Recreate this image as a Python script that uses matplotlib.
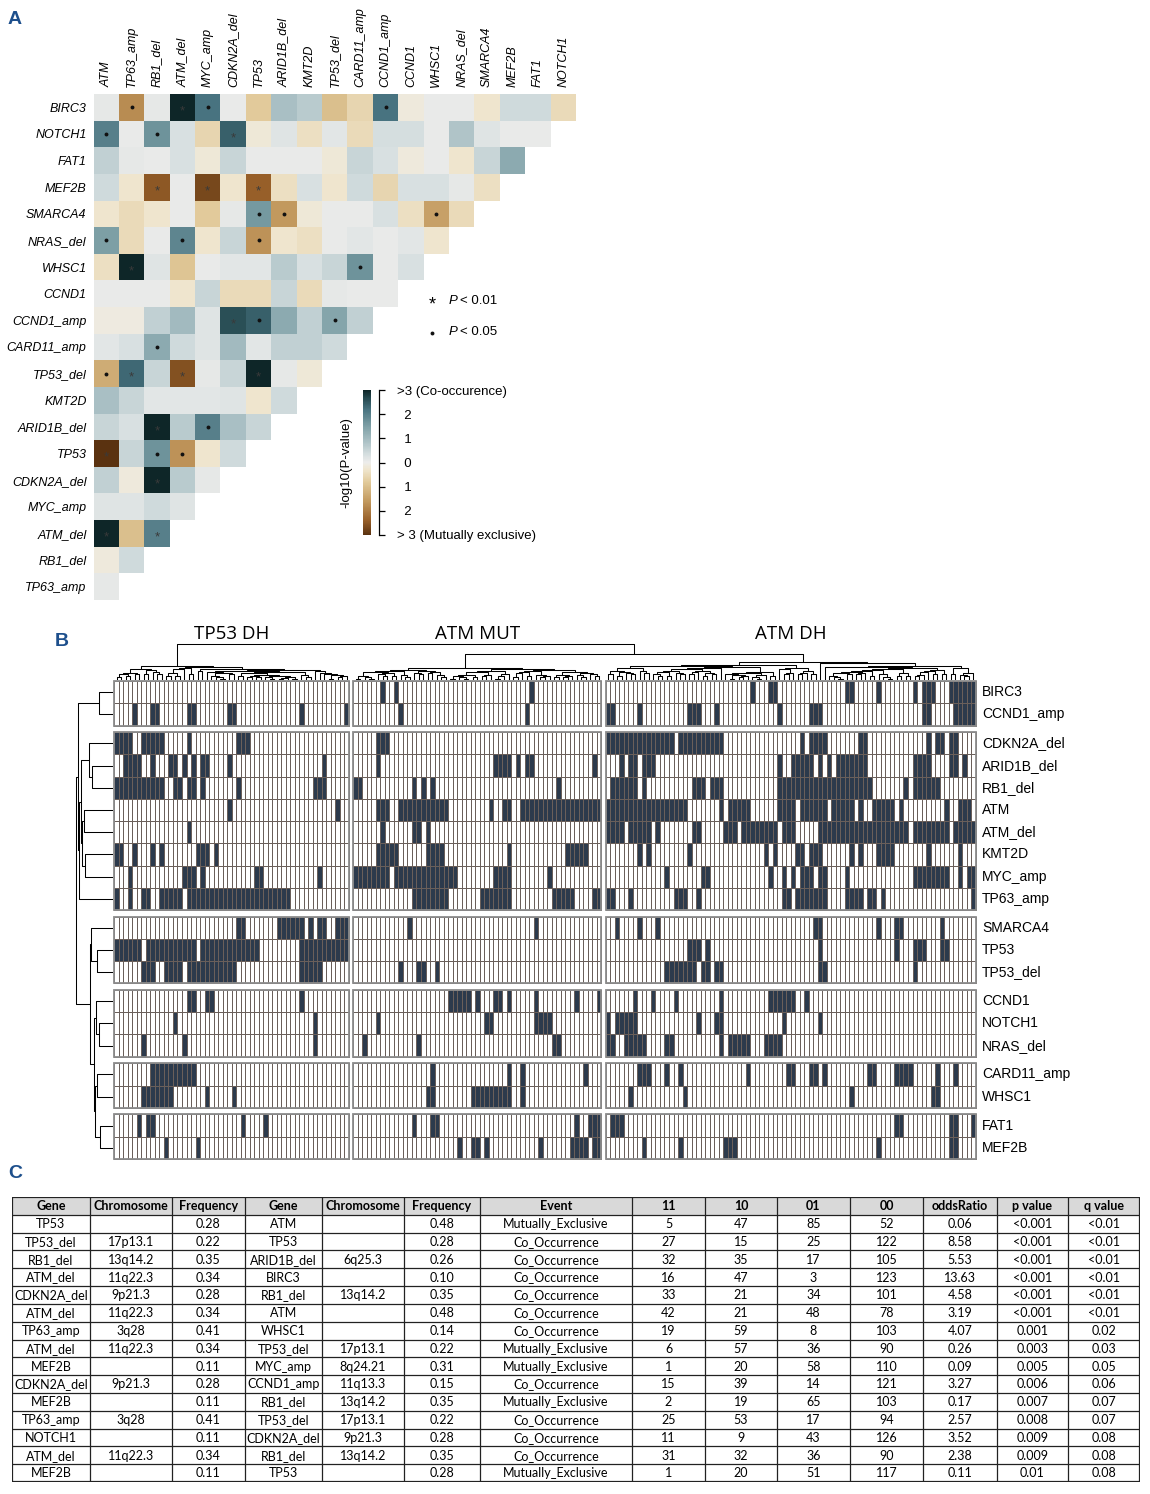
import numpy as np
import matplotlib
matplotlib.use("Agg")
import matplotlib.pyplot as plt
from matplotlib.colors import LinearSegmentedColormap, ListedColormap
from matplotlib.patches import Rectangle
import matplotlib.transforms as mtransforms

# ----------------------------------------------------------------- data A
a_cols = ["ATM", "TP63_amp", "RB1_del", "ATM_del", "MYC_amp", "CDKN2A_del", "TP53",
          "ARID1B_del", "KMT2D", "TP53_del", "CARD11_amp", "CCND1_amp", "CCND1", "WHSC1",
          "NRAS_del", "SMARCA4", "MEF2B", "FAT1", "NOTCH1"]
a_rows = ["BIRC3", "NOTCH1", "FAT1", "MEF2B", "SMARCA4", "NRAS_del", "WHSC1", "CCND1",
          "CCND1_amp", "CARD11_amp", "TP53_del", "KMT2D", "ARID1B_del", "TP53", "CDKN2A_del",
          "MYC_amp", "ATM_del", "RB1_del", "TP63_amp"]
# signed -log10(P): positive = co-occurrence, negative = mutually exclusive
a_vals = [
    [0.1, -1.8, 0.1, 3.0, 2.2, 0.05, -0.8, 0.9, 0.7, -1.0, -0.6, 2.2, -0.15, 0.05, 0.05, -0.3, 0.4, 0.4, -0.5],
    [2.0, 0.05, 1.7, 0.3, -0.6, 2.4, -0.2, 0.2, -0.4, 0.15, -0.5, 0.35, 0.35, 0.05, 0.8, 0.2, 0.05, 0.05],
    [0.6, 0.1, 0.05, 0.3, -0.2, 0.5, 0.05, 0.05, 0.05, -0.2, 0.5, 0.3, -0.15, 0.05, -0.3, 0.5, 1.3],
    [0.4, -0.3, -2.5, 0.05, -2.7, -0.3, -2.4, -0.4, 0.3, -0.3, 0.4, -0.6, 0.3, 0.3, 0.1, -0.4],
    [-0.3, -0.5, -0.3, 0.05, -0.8, 0.1, 1.6, -1.6, -0.2, 0.05, 0.05, 0.3, -0.4, -1.5, -0.5],
    [1.5, -0.5, 0.05, 1.9, -0.3, 0.5, -1.7, -0.3, -0.4, 0.05, 0.15, 0.05, 0.15, -0.3],
    [-0.4, 3.0, 0.2, -0.9, 0.05, 0.15, 0.15, 0.7, 0.3, 0.5, 1.7, 0.05, 0.3],
    [0.05, 0.05, 0.05, -0.3, 0.5, -0.5, -0.5, 0.5, -0.5, 0.1, 0.05, 0.05],
    [-0.1, -0.1, 0.6, 1.0, 0.2, 2.6, 2.4, 1.3, 0.6, 1.4, 0.6],
    [0.15, 0.3, 1.3, 0.4, 0.2, 1.0, 0.15, 0.6, 0.6, 0.4],
    [-1.3, 2.3, 0.5, -2.6, 0.1, 0.5, 3.0, 0.1, -0.2],
    [0.9, 0.5, 0.15, 0.15, 0.15, 0.2, -0.3, 0.4],
    [0.5, 0.3, 3.0, 0.7, 2.0, 0.9, 0.5],
    [-3.0, 0.5, 1.7, -1.7, -0.3, 0.4],
    [0.6, -0.15, 3.0, 0.7, 0.1],
    [0.2, 0.2, 0.4, 0.2],
    [3.0, -1.0, 2.0],
    [-0.15, 0.4],
    [0.1],
]
# significance marks (row, column, mark)
a_sig = [
    ("BIRC3", "TP63_amp", "dot"), ("BIRC3", "ATM_del", "star"), ("BIRC3", "MYC_amp", "dot"),
    ("BIRC3", "CCND1_amp", "dot"),
    ("NOTCH1", "ATM", "dot"), ("NOTCH1", "RB1_del", "dot"), ("NOTCH1", "CDKN2A_del", "star"),
    ("MEF2B", "RB1_del", "star"), ("MEF2B", "MYC_amp", "star"), ("MEF2B", "TP53", "star"),
    ("SMARCA4", "TP53", "dot"), ("SMARCA4", "ARID1B_del", "dot"), ("SMARCA4", "WHSC1", "dot"),
    ("NRAS_del", "ATM", "dot"), ("NRAS_del", "ATM_del", "dot"), ("NRAS_del", "TP53", "dot"),
    ("WHSC1", "TP63_amp", "star"), ("WHSC1", "CARD11_amp", "dot"),
    ("CCND1_amp", "CDKN2A_del", "star"), ("CCND1_amp", "TP53", "dot"), ("CCND1_amp", "TP53_del", "dot"),
    ("CARD11_amp", "RB1_del", "dot"),
    ("TP53_del", "ATM", "dot"), ("TP53_del", "TP63_amp", "star"), ("TP53_del", "ATM_del", "star"),
    ("TP53_del", "TP53", "star"),
    ("ARID1B_del", "RB1_del", "star"), ("ARID1B_del", "MYC_amp", "dot"),
    ("TP53", "ATM", "star"), ("TP53", "RB1_del", "dot"), ("TP53", "ATM_del", "dot"),
    ("CDKN2A_del", "RB1_del", "star"),
    ("ATM_del", "ATM", "star"), ("ATM_del", "RB1_del", "star"),
]
cbar_ticks = [3, 2, 1, 0, -1, -2, -3]
cbar_labels = [">3 (Co-occurence)", "  2", "  1", "  0", "  1", "  2", "> 3 (Mutually exclusive)"]

# ----------------------------------------------------------------- data B
b_genes = ["BIRC3", "CCND1_amp", "CDKN2A_del", "ARID1B_del", "RB1_del", "ATM", "ATM_del", "KMT2D",
           "MYC_amp", "TP63_amp", "SMARCA4", "TP53", "TP53_del", "CCND1", "NOTCH1", "NRAS_del",
           "CARD11_amp", "WHSC1", "FAT1", "MEF2B"]
b_row_groups = [2, 8, 3, 3, 2, 2]
b_col_groups = ["TP53 DH", "ATM MUT", "ATM DH"]
b_col_sizes = [52, 55, 82]
# altered patients (column indices inside each cluster)
b_tp53dh = {
    "BIRC3": "", "CCND1_amp": "4 8-9 16-17 25-26 41 51",
    "CDKN2A_del": "0-3 6-10 16 27-29", "ARID1B_del": "2-5 8 12-13 15 17 19-20 25 46",
    "RB1_del": "0-10 13-14 16-17 19 27 44-46", "ATM": "25 49", "ATM_del": "16",
    "KMT2D": "0-1 4 8 10 18-20 22", "MYC_amp": "3 15-17 19 31-32 45",
    "TP63_amp": "0 3 6-7 10-14 16-38", "SMARCA4": "27-28 36-41 43 45-46 49-51",
    "TP53": "0-5 7-17 19-31 41-51", "TP53_del": "6-8 11-14 16-26 41-45",
    "CCND1": "16-17 20-21 41", "NOTCH1": "13 44", "NRAS_del": "6 15 44",
    "CARD11_amp": "8-17", "WHSC1": "6-12 20 26", "FAT1": "5 7-8 28 33", "MEF2B": "11 18",
}
b_atmmut = {
    "BIRC3": "6 9 39", "CCND1_amp": "10 38", "CDKN2A_del": "5-7",
    "ARID1B_del": "5 31-34 36 38-39 53", "RB1_del": "0-1 13 15 17 45",
    "ATM": "5-7 10-20 30 33-34 37-54", "ATM_del": "6 13-14 16",
    "KMT2D": "5-9 16-19 34 47-51", "MYC_amp": "0-7 9-22 31-34 43",
    "TP63_amp": "13-20 28-34 44-48 53-54", "SMARCA4": "12 40", "TP53": "",
    "TP53_del": "10 14-15 18", "CCND1": "21-25 27 31-32 34 40 49 54",
    "NOTCH1": "5 29-30 40-43", "NRAS_del": "2 14 44-45", "CARD11_amp": "17 34 37 51",
    "WHSC1": "16-17 26-34 37", "FAT1": "13 17-18 49 52-54",
    "MEF2B": "23 26-27 29 41 48-51 53-54",
}
b_atmdh = {
    "BIRC3": "32 36-37 53-54 60 68 70-72 76-81",
    "CCND1_amp": "0-1 7 18-20 24 38 45-47 70-71 77-81",
    "CDKN2A_del": "0-14 16-25 43 45-48 56-57 71 73-74 76-77",
    "ARID1B_del": "3 5-6 8-10 38 41-45 47 49 51-57 68-71 76-77 79",
    "RB1_del": "1-6 8 19-21 23-25 38-58 66 68-73",
    "ATM": "0-17 25 27-31 38-41 43-48 50-54 56 59-63 65 75 78-80",
    "ATM_del": "0-3 5-9 11 19-20 26-28 30-37 39-41 47-66 68-75 77-81",
    "KMT2D": "7 9 18 35 37 42-43 45-47 54 56 60-63 71 78",
    "MYC_amp": "13 21-22 36 39 41 43-45 47-48 53 68-75 78 80-81",
    "TP63_amp": "0-1 5 15-17 20 39-40 42-48 53-56 58-59 61 81",
    "SMARCA4": "2 7 11 46-47 60 64-65 74",
    "TP53": "18-20 22 47 64 68-70 74-75",
    "TP53_del": "13-19 21-22 24-25 47-48 68",
    "CCND1": "6 10 15 25 36-41 44",
    "NOTCH1": "0 2-6 20 24-25 39 47",
    "NRAS_del": "0-1 4-8 13-14 25 27-31 35-38",
    "CARD11_amp": "7-9 13 16 31 40-41 45-46 48 58-59 64-67 73 77",
    "WHSC1": "5 17 54 72-73",
    "FAT1": "1-3 64-65 76-77 81",
    "MEF2B": "8 16 26-28 60 76-77",
}

# ----------------------------------------------------------------- data C
tbl_header = ["Gene", "Chromosome", "Frequency", "Gene", "Chromosome", "Frequency", "Event",
              "11", "10", "01", "00", "oddsRatio", "p value", "q value"]
c_gene1 = ["TP53", "TP53_del", "RB1_del", "ATM_del", "CDKN2A_del", "ATM_del", "TP63_amp", "ATM_del",
           "MEF2B", "CDKN2A_del", "MEF2B", "TP63_amp", "NOTCH1", "ATM_del", "MEF2B"]
c_chr1 = ["", "17p13.1", "13q14.2", "11q22.3", "9p21.3", "11q22.3", "3q28", "11q22.3", "", "9p21.3",
          "", "3q28", "", "11q22.3", ""]
c_freq1 = [0.28, 0.22, 0.35, 0.34, 0.28, 0.34, 0.41, 0.34, 0.11, 0.28, 0.11, 0.41, 0.11, 0.34, 0.11]
c_gene2 = ["ATM", "TP53", "ARID1B_del", "BIRC3", "RB1_del", "ATM", "WHSC1", "TP53_del", "MYC_amp",
           "CCND1_amp", "RB1_del", "TP53_del", "CDKN2A_del", "RB1_del", "TP53"]
c_chr2 = ["", "", "6q25.3", "", "13q14.2", "", "", "17p13.1", "8q24.21", "11q13.3", "13q14.2",
          "17p13.1", "9p21.3", "13q14.2", ""]
c_freq2 = [0.48, 0.28, 0.26, 0.10, 0.35, 0.48, 0.14, 0.22, 0.31, 0.15, 0.35, 0.22, 0.28, 0.35, 0.28]
c_event = ["Mutually_Exclusive", "Co_Occurrence", "Co_Occurrence", "Co_Occurrence", "Co_Occurrence",
           "Co_Occurrence", "Co_Occurrence", "Mutually_Exclusive", "Mutually_Exclusive",
           "Co_Occurrence", "Mutually_Exclusive", "Co_Occurrence", "Co_Occurrence", "Co_Occurrence",
           "Mutually_Exclusive"]
c_n11 = [5, 27, 32, 16, 33, 42, 19, 6, 1, 15, 2, 25, 11, 31, 1]
c_n10 = [47, 15, 35, 47, 21, 21, 59, 57, 20, 39, 19, 53, 9, 32, 20]
c_n01 = [85, 25, 17, 3, 34, 48, 8, 36, 58, 14, 65, 17, 43, 36, 51]
c_n00 = [52, 122, 105, 123, 101, 78, 103, 90, 110, 121, 103, 94, 126, 90, 117]
c_odds = [0.06, 8.58, 5.53, 13.63, 4.58, 3.19, 4.07, 0.26, 0.09, 3.27, 0.17, 2.57, 3.52, 2.38, 0.11]
c_p = ["<0.001", "<0.001", "<0.001", "<0.001", "<0.001", "<0.001", "0.001", "0.003", "0.005",
       "0.006", "0.007", "0.008", "0.009", "0.009", "0.01"]
c_q = ["<0.01", "<0.01", "<0.01", "<0.01", "<0.01", "<0.01", "0.02", "0.03", "0.05", "0.06",
       "0.07", "0.07", "0.08", "0.08", "0.08"]

# ----------------------------------------------------------------- figure
W, H = 1150, 1494
fig = plt.figure(figsize=(W / 100, H / 100), dpi=100)
SANS = ["Liberation Sans", "DejaVu Sans"]
BLUE = "#1d4f8c"


def add_ax(x0, y0, x1, y1):
    return fig.add_axes([x0 / W, 1 - y1 / H, (x1 - x0) / W, (y1 - y0) / H])


def ftxt(x, y, s, **kw):
    return fig.text(x / W, 1 - y / H, s, **kw)


# ================================================================= PANEL A
ftxt(15, 20, "A", fontsize=14, fontweight="bold", color=BLUE, ha="center", va="center",
     family=SANS)
nodes = [(-3.0, "#5a3210"), (-2.4, "#98602a"), (-1.6, "#c39a5f"), (-0.8, "#e2cb9c"),
         (-0.3, "#efe5cd"), (0.0, "#ededeb"), (0.3, "#d8e0e1"), (0.8, "#b1c5c9"),
         (1.5, "#7ea0a6"), (2.2, "#487380"), (2.7, "#23464c"), (3.0, "#0e2628")]
cmapA = LinearSegmentedColormap.from_list("coocc", [((v + 3) / 6, c) for v, c in nodes])

nR, nC = len(a_rows), len(a_cols)
A = np.full((nR, nC), np.nan)
for i, row in enumerate(a_vals):
    A[i, :len(row)] = row
axA = add_ax(93.5, 94, 576, 600)
meshA = axA.pcolormesh(np.ma.masked_invalid(A), cmap=cmapA, vmin=-3, vmax=3)
axA.set_xlim(0, nC)
axA.set_ylim(nR, 0)
for s in axA.spines.values():
    s.set_visible(False)
axA.set_xticks(np.arange(nC) + 0.5)
axA.set_xticklabels(a_cols, rotation=90, fontsize=9, style="italic", family=SANS)
axA.xaxis.tick_top()
axA.set_yticks(np.arange(nR) + 0.5)
axA.set_yticklabels(a_rows, fontsize=9, style="italic", family=SANS)
axA.tick_params(length=0, pad=5)
for r, c, m in a_sig:
    i, j = a_rows.index(r), a_cols.index(c)
    if m == "dot":
        axA.plot(j + 0.5, i + 0.5, "o", ms=2.8, color="#111111", mec="none")
    else:
        axA.text(j + 0.5, i + 0.66, "*", ha="center", va="center", fontsize=9.5,
                 color="#3a3a3a", family=SANS)

# legend for significance
ftxt(432, 305, "*", fontsize=13, ha="center", va="center", family=SANS)
ftxt(449, 301, "P", fontsize=9.5, style="italic", ha="left", va="center", family=SANS)
ftxt(460, 301, "< 0.01", fontsize=9.5, ha="left", va="center", family=SANS)
fig.add_artist(plt.Line2D([432 / W], [1 - 333 / H], marker="o", ms=2.8,
                          color="#111111", mec="none", transform=fig.transFigure))
ftxt(449, 332, "P", fontsize=9.5, style="italic", ha="left", va="center", family=SANS)
ftxt(460, 332, "< 0.05", fontsize=9.5, ha="left", va="center", family=SANS)

# colour bar
cax = add_ax(363, 390, 371, 535)
cb = fig.colorbar(meshA, cax=cax)
cb.outline.set_visible(False)
cax.set_yticks([])
bax = add_ax(371, 390, 379, 535)
bax.set_ylim(-3, 3)
bax.set_xticks([])
for k in ["left", "top", "bottom"]:
    bax.spines[k].set_visible(False)
bax.spines["right"].set_linewidth(0.9)
bax.patch.set_alpha(0)
bax.yaxis.tick_right()
bax.set_yticks(cbar_ticks)
bax.set_yticklabels(cbar_labels, fontsize=9.5, family=SANS)
bax.tick_params(axis="y", length=4, width=0.9, pad=9)
ftxt(346, 463, "-log10(P-value)", rotation=90, fontsize=9.5, ha="center", va="center",
     family=SANS)

# ================================================================= PANEL B
ftxt(62, 642, "B", fontsize=14, fontweight="bold", color=BLUE, ha="center", va="center",
     family=SANS)


def parse(s):
    out = []
    for tok in s.split():
        if "-" in tok:
            a, b = tok.split("-")
            out.extend(range(int(a), int(b) + 1))
        else:
            out.append(int(tok))
    return out


nG = len(b_genes)
nP = sum(b_col_sizes)
M = np.zeros((nG, nP))
col_start = np.cumsum([0] + b_col_sizes)
for g, dct in enumerate([b_tp53dh, b_atmmut, b_atmdh]):
    for i, gene in enumerate(b_genes):
        for j in parse(dct[gene]):
            M[i, col_start[g] + j] = 1

GAPX, GAPY = 1.0, 0.3
xoff = [col_start[g] + g * GAPX for g in range(3)]
row_start = np.cumsum([0] + b_row_groups)
yoff = [row_start[r] + r * GAPY for r in range(len(b_row_groups))]
XT = nP + 2 * GAPX
YT = nG + (len(b_row_groups) - 1) * GAPY
col_pos = np.concatenate([xoff[g] + np.arange(b_col_sizes[g]) + 0.5 for g in range(3)])
row_pos = np.concatenate([yoff[r] + np.arange(b_row_groups[r]) + 0.5
                          for r in range(len(b_row_groups))])

axB = add_ax(113, 680, 977, 1160)
cmapB = ListedColormap(["#ffffff", "#2c3a4c"])
for r in range(len(b_row_groups)):
    for g in range(3):
        sub = M[row_start[r]:row_start[r + 1], col_start[g]:col_start[g + 1]]
        xe = xoff[g] + np.arange(sub.shape[1] + 1)
        ye = yoff[r] + np.arange(sub.shape[0] + 1)
        axB.pcolormesh(xe, ye, sub, cmap=cmapB, vmin=0, vmax=1, edgecolors="#6a5f5a",
                       linewidth=0.55)
        axB.add_patch(Rectangle((xe[0], ye[0]), xe[-1] - xe[0], ye[-1] - ye[0], fill=False,
                                ec="#8c8c8c", lw=1.3))
axB.set_xlim(-0.3, XT + 0.3)
axB.set_ylim(YT + 0.05, -0.05)
axB.axis("off")
for i, gene in enumerate(b_genes):
    axB.text(XT + 1.4, row_pos[i], gene, ha="left", va="center", fontsize=10, family=SANS)

trans = mtransforms.blended_transform_factory(axB.transData, fig.transFigure)
for g, name in enumerate(b_col_groups):
    axB.text(xoff[g] + b_col_sizes[g] / 2, 1 - 634 / H, name, transform=trans, ha="center",
             va="center", fontsize=13.5, family=["Open Sans", "DejaVu Sans"])


def adj_cluster(D, clusters, delta):
    """Agglomerative average linkage restricted to neighbouring clusters."""
    clusters = [dict(c) for c in clusters]
    segs = []
    while len(clusters) > 1:
        best = None
        for k in range(len(clusters) - 1):
            a, b = clusters[k], clusters[k + 1]
            d = D[np.ix_(a["m"], b["m"])].mean()
            key = (round(d, 9), len(a["m"]) + len(b["m"]), k)
            if best is None or key < best[0]:
                best = (key, k, d)
        _, k, d = best
        a, b = clusters[k], clusters[k + 1]
        h = max(d, a["h"], b["h"]) + delta
        segs.append((a["pos"], a["h"], b["pos"], b["h"], h))
        clusters[k:k + 2] = [dict(m=a["m"] + b["m"], pos=(a["pos"] + b["pos"]) / 2, h=h)]
    return clusters[0], segs


def leaves(idx, pos):
    return [dict(m=[i], pos=p, h=0.0) for i, p in zip(idx, pos)]


# column dendrogram
Dc = np.abs(M.T[:, None, :] - M.T[None, :, :]).mean(axis=2)
csegs, ctops = [], []
for g in range(3):
    idx = list(range(col_start[g], col_start[g + 1]))
    top, s = adj_cluster(Dc, leaves(idx, col_pos[idx]), 0.03)
    csegs += s
    ctops.append(top)
hm = max(t["h"] for t in ctops)
h12 = hm * 1.45
csegs.append((ctops[1]["pos"], ctops[1]["h"], ctops[2]["pos"], ctops[2]["h"], h12))
p12 = (ctops[1]["pos"] + ctops[2]["pos"]) / 2
hroot = hm * 2.0
csegs.append((ctops[0]["pos"], ctops[0]["h"], p12, h12, hroot))

axCD = add_ax(113, 643, 977, 680)
for x1, h1, x2, h2, h in csegs:
    axCD.plot([x1, x1, x2, x2], [h1, h, h, h2], color="black", lw=0.75,
              solid_capstyle="butt")
axCD.set_xlim(axB.get_xlim())
axCD.set_ylim(0, hroot * 1.03)
axCD.axis("off")

# row dendrogram
Dr = np.abs(M[:, None, :] - M[None, :, :]).mean(axis=2)
rsegs, rtops = [], []
for r in range(len(b_row_groups)):
    idx = list(range(row_start[r], row_start[r + 1]))
    top, s = adj_cluster(Dr, leaves(idx, row_pos[idx]), 0.01)
    rsegs += s
    rtops.append(top)
rroot, s = adj_cluster(Dr, rtops, 0.02)
rsegs += s
axRD = add_ax(75, 680, 113, 1160)
for y1, h1, y2, h2, h in rsegs:
    axRD.plot([-h1, -h, -h, -h2], [y1, y1, y2, y2], color="black", lw=0.75,
              solid_capstyle="butt")
axRD.set_ylim(axB.get_ylim())
axRD.set_xlim(-rroot["h"] * 1.03, 0)
axRD.axis("off")

# ================================================================= PANEL C
ftxt(15, 1173, "C", fontsize=14, fontweight="bold", color=BLUE, ha="center", va="center",
     family=SANS)
tbl_edges = [12, 90, 172, 245, 322, 404, 480, 632, 705, 777, 850, 923, 997, 1068, 1140]
rows = []
for k in range(len(c_gene1)):
    rows.append([c_gene1[k], c_chr1[k], "%.2f" % c_freq1[k], c_gene2[k], c_chr2[k],
                 "%.2f" % c_freq2[k], c_event[k], str(c_n11[k]), str(c_n10[k]),
                 str(c_n01[k]), str(c_n00[k]), "%.2f" % c_odds[k], c_p[k], c_q[k]])
nrow = len(rows) + 1
axT = add_ax(12, 1197, 1140, 1482)
axT.set_xlim(12, 1140)
axT.set_ylim(nrow, 0)
axT.axis("off")
axT.add_patch(Rectangle((12, 0), 1128, 1, fc="#d9d9d9", ec="none"))
TFONT = ["Lato", "DejaVu Sans"]
for j, txt in enumerate(tbl_header):
    axT.text((tbl_edges[j] + tbl_edges[j + 1]) / 2, 0.52, txt, ha="center", va="center",
             fontsize=9, fontweight="bold", family=TFONT)
for i, row in enumerate(rows):
    for j, txt in enumerate(row):
        axT.text((tbl_edges[j] + tbl_edges[j + 1]) / 2, i + 1.52, txt, ha="center",
                 va="center", fontsize=9, family=TFONT)
for i in range(nrow + 1):
    lw = 1.6 if i in (0, nrow) else 0.9
    axT.plot([12, 1140], [i, i], color="#222222", lw=lw, solid_capstyle="butt")
for j, x in enumerate(tbl_edges):
    lw = 1.6 if j in (0, len(tbl_edges) - 1) else 0.9
    axT.plot([x, x], [0, nrow], color="#222222", lw=lw, solid_capstyle="butt")

fig.savefig("out.png", dpi=100)
